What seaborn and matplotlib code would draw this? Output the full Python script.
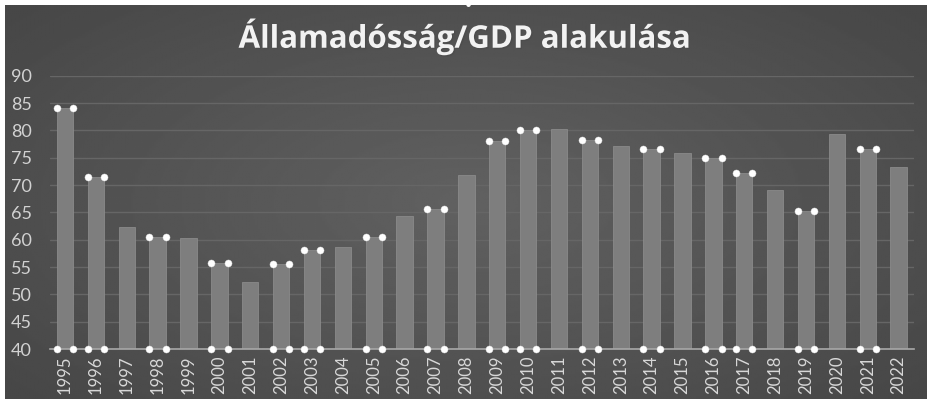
import numpy as np
import pandas as pd
import matplotlib
matplotlib.use("Agg")
import matplotlib.pyplot as plt
import matplotlib.patheffects as pe
import seaborn as sns

years = [str(y) for y in range(1995, 2023)]
values = [84.1, 71.4, 62.3, 60.5, 60.3, 55.7, 52.3, 55.6, 58.1, 58.7,
          60.5, 64.4, 65.6, 71.8, 78.0, 80.0, 80.3, 78.2, 77.2, 76.5,
          75.8, 74.9, 72.2, 69.1, 65.3, 79.4, 76.6, 73.3]
selected = ["1995", "1996", "1998", "2000", "2002", "2003", "2005", "2007",
            "2009", "2010", "2012", "2014", "2016", "2017", "2019", "2021"]
title = "Államadósság/GDP alakulása"
yticks = [40, 45, 50, 55, 60, 65, 70, 75, 80, 85, 90]

df = pd.DataFrame({"year": years, "value": values})

sns.set_theme(style="dark")
plt.rcParams["font.family"] = ["Lato", "DejaVu Sans"]

W, H = 928, 403
fig = plt.figure(figsize=(W / 100, H / 100), dpi=100, facecolor="white")

# background panel with radial gradient
bg = fig.add_axes([5 / W, 1 - 399 / H, 923 / W, 394 / H], zorder=0)
xx, yy = np.meshgrid(np.linspace(-1, 1, 400), np.linspace(-1, 1, 200))
r = np.sqrt(xx ** 2 + (yy * 0.9) ** 2)
grad = 0.38 - 0.10 * np.clip(r / 1.3, 0, 1)
bg.imshow(grad, cmap="gray", vmin=0, vmax=1, aspect="auto",
          extent=[0, 1, 0, 1], interpolation="bilinear")
bg.set_axis_off()

ax = fig.add_axes([49.6 / W, 1 - 349 / H, (914 - 49.6) / W, (349 - 75.7) / H], zorder=1)
ax.patch.set_alpha(0)

width = 0.53
sns.barplot(data=df, x="year", y="value", color="#7e7e7e", width=width,
            saturation=1, ax=ax, zorder=3, edgecolor="#8a8a8a", linewidth=0.6)

ax.set_ylim(40, 90)
ax.set_xlim(-0.5, len(years) - 0.5)
ax.set_yticks(yticks)
ax.set_yticklabels([str(t) for t in yticks])
ax.grid(axis="y", color="#666666", linewidth=1.0, zorder=0)
ax.grid(axis="x", visible=False)
for s in ["top", "right", "left"]:
    ax.spines[s].set_visible(False)
ax.spines["bottom"].set_color("#a8a8a8")
ax.spines["bottom"].set_linewidth(1.2)
ax.spines["bottom"].set_zorder(4)
ax.tick_params(axis="y", length=0, pad=13, labelsize=13, labelcolor="#d2d2d2")
ax.tick_params(axis="x", length=0, pad=5, labelsize=12, labelcolor="#d8d8d8", rotation=90)
ax.set_xlabel("")
ax.set_ylabel("")

# selection handles at bar corners
sx, sy = [], []
for i, (yr, v) in enumerate(zip(years, values)):
    if yr in selected:
        for dx in (-width / 2, width / 2):
            sx += [i + dx, i + dx]
            sy += [v, 40]
ax.scatter(sx, sy, s=26, color="white", edgecolor="#dddddd", linewidth=0.3,
           zorder=6, clip_on=False)

fig.text(0.501, 1 - 37 / H, title, ha="center", va="center", fontsize=22.5,
         fontweight="bold", color="#f2f2f2",
         family=["Open Sans", "DejaVu Sans"],
         path_effects=[pe.withSimplePatchShadow(offset=(1, -1), alpha=0.5)])
fig.text(468 / W, 1 - 5 / H, "•", ha="center", va="center", fontsize=9, color="white")

fig.savefig("out.png", dpi=100, facecolor="white")
